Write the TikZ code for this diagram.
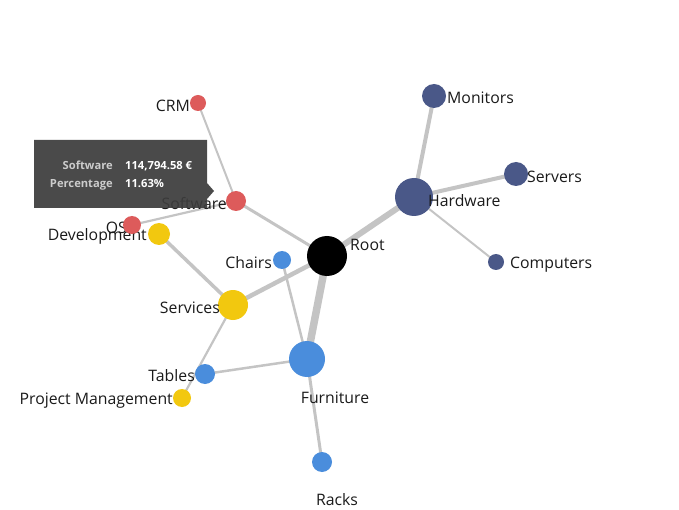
\documentclass[tikz,border=0pt]{standalone}
\usepackage{fontspec}
\setmainfont{Open Sans}
\definecolor{cred}{HTML}{DD5B5B}
\definecolor{cyel}{HTML}{F2C80F}
\definecolor{cblu}{HTML}{4A8DDC}
\definecolor{cnav}{HTML}{4A5888}
\definecolor{cedge}{HTML}{C4C4C4}
\definecolor{ctxt}{HTML}{1A1A1A}
\definecolor{ctip}{HTML}{3C3C3C}
\begin{document}
\begin{tikzpicture}[x=1pt,y=-1pt,
  dot/.style={circle,inner sep=0pt,minimum size=#1,draw=none},
  edge/.style={draw=cedge,line width=#1},
  lbl/.style={text=ctxt,font=\fontsize{15.8}{17}\selectfont,inner sep=0pt,yshift=-1.5pt},
  tipk/.style={text=white!80!black,font=\bfseries\fontsize{11.2}{13}\selectfont,inner sep=0pt,anchor=base east},
  tipv/.style={text=white,font=\bfseries\fontsize{11.2}{13}\selectfont,inner sep=0pt,anchor=base west}]
\useasboundingbox (0,0) rectangle (679,510);
% coordinates
\coordinate (pRoot) at (327,256);
\coordinate (pHard) at (414,197);
\coordinate (pMon) at (434,96);
\coordinate (pSrv) at (516,174);
\coordinate (pComp) at (496,262);
\coordinate (pSoft) at (236,201);
\coordinate (pCRM) at (198,103);
\coordinate (pOS) at (132,225);
\coordinate (pDev) at (159,234);
\coordinate (pServ) at (233,305);
\coordinate (pChair) at (282,260);
\coordinate (pFurn) at (307,359);
\coordinate (pTab) at (205,374);
\coordinate (pPM) at (182,398);
\coordinate (pRack) at (322,462);
% edges
\draw[edge=7.5] (pRoot) -- (pFurn);
\draw[edge=6] (pRoot) -- (pHard);
\draw[edge=4.5] (pRoot) -- (pServ);
\draw[edge=3] (pRoot) -- (pSoft);
\draw[edge=4] (pHard) -- (pMon);
\draw[edge=4] (pHard) -- (pSrv);
\draw[edge=2] (pHard) -- (pComp);
\draw[edge=2] (pSoft) -- (pCRM);
\draw[edge=2.2] (pSoft) -- (pOS);
\draw[edge=3.5] (pServ) -- (pDev);
\draw[edge=2.2] (pServ) -- (pPM);
\draw[edge=2.5] (pFurn) -- (pTab);
\draw[edge=2.5] (pFurn) -- (pChair);
\draw[edge=3] (pFurn) -- (pRack);
% labels under nodes
\node[lbl,anchor=east] (lOS) at (127,226) {OS};
\node[lbl,anchor=east] (lDev) at (147,235) {Development};
% nodes
\node[dot=40,fill=black] (Root) at (pRoot) {};
\node[dot=38,fill=cnav] (Hard) at (pHard) {};
\node[dot=24,fill=cnav] (Mon) at (pMon) {};
\node[dot=24,fill=cnav] (Srv) at (pSrv) {};
\node[dot=16,fill=cnav] (Comp) at (pComp) {};
\node[dot=20,fill=cred] (Soft) at (pSoft) {};
\node[dot=16,fill=cred] (CRM) at (pCRM) {};
\node[dot=18,fill=cred] (OS) at (pOS) {};
\node[dot=22,fill=cyel] (Dev) at (pDev) {};
\node[dot=30,fill=cyel] (Serv) at (pServ) {};
\node[dot=18,fill=cblu] (Chair) at (pChair) {};
\node[dot=36,fill=cblu] (Furn) at (pFurn) {};
\node[dot=20,fill=cblu] (Tab) at (pTab) {};
\node[dot=18,fill=cyel] (PM) at (pPM) {};
\node[dot=20,fill=cblu] (Rack) at (pRack) {};
% labels
\node[lbl,anchor=east] (lCRM) at (190,104) {CRM};
\node[lbl,anchor=east] (lSoft) at (227,202) {Software};
\node[lbl,anchor=east] (lChair) at (272,261) {Chairs};
\node[lbl,anchor=west] (lRoot) at (350,243) {Root};
\node[lbl,anchor=west] (lHard) at (428,199) {Hardware};
\node[lbl,anchor=west] (lMon) at (447,96) {Monitors};
\node[lbl,anchor=west] (lSrv) at (527,175) {Servers};
\node[lbl,anchor=west] (lComp) at (510,263) {Computers};
\node[lbl,anchor=east] (lServ) at (220,306) {Services};
\node[lbl,anchor=east] (lTab) at (195,374) {Tables};
\node[lbl,anchor=east] (lPM) at (173,399) {Project Management};
\node[lbl] (lFurn) at (335,396) {Furniture};
\node[lbl] (lRack) at (337,498) {Racks};
% tooltip
\fill[ctip,opacity=0.93] (34,140) -- (207,140) -- (207,183) -- (214,191) -- (207,199) -- (207,208) -- (34,208) -- cycle;
\node[tipk] (tk1) at (113,170) {Software};
\node[tipv] (tv1) at (125,170) {114,794.58 €};
\node[tipk] (tk2) at (113,188) {Percentage};
\node[tipv] (tv2) at (125,188) {11.63\%};
\end{tikzpicture}
\end{document}
